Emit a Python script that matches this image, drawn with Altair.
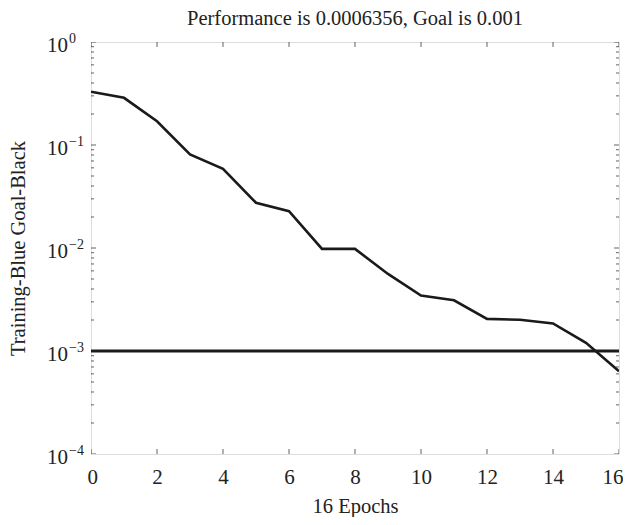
import altair as alt
import pandas as pd

# ---- data ----
epochs = [0, 1, 2, 3, 4, 5, 6, 7, 8, 9, 10, 11, 12, 13, 14, 15, 16]
performance = [0.329, 0.287, 0.170, 0.081, 0.0587, 0.0275, 0.0228, 0.0098,
               0.0098, 0.0056, 0.00346, 0.00311, 0.00205, 0.00201, 0.00185,
               0.00120, 0.0006356]
goal = 0.001

x_major = [0, 2, 4, 6, 8, 10, 12, 14, 16]
y_major = [1e0, 1e-1, 1e-2, 1e-3, 1e-4]
y_base_labels = ["10", "10", "10", "10", "10"]
y_exp_labels = ["0", "\u22121", "\u22122", "\u22123", "\u22124"]
y_minor = [m * d for d in [1e-4, 1e-3, 1e-2, 1e-1] for m in [2, 3, 4, 5, 6, 7, 8, 9]]

FONT = "Liberation Serif"
INK = "#222"
W, H = 528, 412
LEFT = 83
RIGHT = 615 - LEFT - W

perf_df = pd.DataFrame({"epoch": epochs, "perf": performance})
goal_df = pd.DataFrame({"epoch": [epochs[0], epochs[-1]], "perf": [goal, goal]})
xt_df = pd.DataFrame({"x": x_major})
ymaj_df = pd.DataFrame({"y": y_major, "base": y_base_labels, "exp": y_exp_labels})
ymin_df = pd.DataFrame({"y": y_minor})

xscale = alt.Scale(domain=[0, 16], nice=False, zero=False)
yscale = alt.Scale(type="log", domain=[1e-4, 1], nice=False)

x_enc = alt.X("epoch:Q", scale=xscale,
              axis=alt.Axis(values=x_major, title="16 Epochs", grid=False, ticks=False,
                            tickSize=0, domain=False, labelFont=FONT, labelFontSize=21,
                            labelColor=INK, labelPadding=29, labelBaseline="alphabetic",
                            labelFlush=True, labelFlushOffset=RIGHT,
                            titleFont=FONT, titleFontSize=20.5, titleFontWeight="normal",
                            titleColor=INK, titleX=W / 2, titleY=58,
                            titleBaseline="alphabetic", titleAlign="center"))
y_enc = alt.Y("perf:Q", scale=yscale,
              axis=alt.Axis(values=y_major, labels=False, title="Training-Blue Goal-Black",
                            grid=False, ticks=False, tickSize=0, domain=False,
                            titleFont=FONT, titleFontSize=20.5, titleFontWeight="normal",
                            titleColor=INK, titleX=18 - 8 - LEFT, titleY=H / 2, titleAngle=270,
                            titleAlign="center", titleBaseline="middle"))

line = alt.Chart(perf_df).mark_line(color="#1a1a1a", strokeWidth=2.6, clip=True).encode(
    x=x_enc, y=y_enc)
goal_line = alt.Chart(goal_df).mark_line(color="#1a1a1a", strokeWidth=3, clip=True).encode(
    x=alt.X("epoch:Q", scale=xscale), y=alt.Y("perf:Q", scale=yscale))

tick_style = dict(color=INK, thickness=1, clip=True)
bottom_ticks = alt.Chart(xt_df).mark_tick(orient="vertical", size=10, **tick_style).encode(
    x=alt.X("x:Q", scale=xscale), y=alt.datum(1e-4, scale=yscale))
top_ticks = alt.Chart(xt_df).mark_tick(orient="vertical", size=10, **tick_style).encode(
    x=alt.X("x:Q", scale=xscale), y=alt.datum(1, scale=yscale))
left_major = alt.Chart(ymaj_df).mark_tick(orient="horizontal", size=10, **tick_style).encode(
    y=alt.Y("y:Q", scale=yscale), x=alt.datum(0, scale=xscale))
right_major = alt.Chart(ymaj_df).mark_tick(orient="horizontal", size=10, **tick_style).encode(
    y=alt.Y("y:Q", scale=yscale), x=alt.datum(16, scale=xscale))
left_minor = alt.Chart(ymin_df).mark_tick(orient="horizontal", size=6, **tick_style).encode(
    y=alt.Y("y:Q", scale=yscale), x=alt.datum(0, scale=xscale))
right_minor = alt.Chart(ymin_df).mark_tick(orient="horizontal", size=6, **tick_style).encode(
    y=alt.Y("y:Q", scale=yscale), x=alt.datum(16, scale=xscale))

# y tick labels as "10" with a raised exponent
ylab_base = alt.Chart(ymaj_df).mark_text(
    font=FONT, fontSize=21, color=INK, align="right", baseline="alphabetic", dx=-23, dy=10
).encode(y=alt.Y("y:Q", scale=yscale), x=alt.datum(0, scale=xscale), text="base:N")
ylab_exp = alt.Chart(ymaj_df).mark_text(
    font=FONT, fontSize=14, color=INK, align="left", baseline="alphabetic", dx=-22, dy=1
).encode(y=alt.Y("y:Q", scale=yscale), x=alt.datum(0, scale=xscale), text="exp:N")

chart = alt.layer(
    line, goal_line, bottom_ticks, top_ticks, left_major, right_major, left_minor,
    right_minor, ylab_base, ylab_exp
).properties(
    width=W, height=H,
    title=alt.TitleParams("Performance is 0.0006356, Goal is 0.001", font=FONT, fontSize=20.5,
                          fontWeight="normal", color=INK, anchor="middle", frame="group",
                          baseline="bottom", offset=17, dy=34),
    autosize=alt.AutoSizeParams(type="none"),
    padding={"left": LEFT, "top": 34, "right": RIGHT, "bottom": 63},
).configure_view(stroke=INK, strokeWidth=1.5).configure(background="white")

chart.save("out.html", embed_options={"renderer": "svg", "actions": False})
